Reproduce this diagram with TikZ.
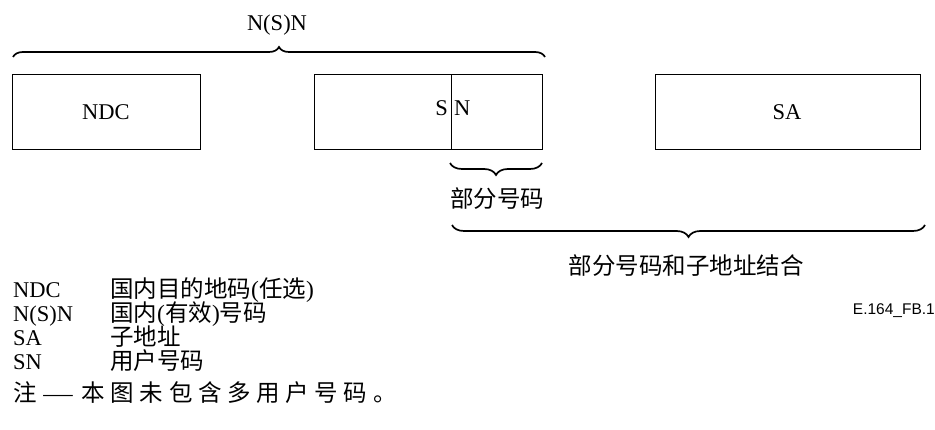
\documentclass[tikz,border=0pt]{standalone}
\usepackage{fontspec}
\setmainfont{Liberation Serif}
\newfontfamily\cjk{Noto Sans CJK SC}
\newfontfamily\cjknote[LetterSpace=24]{Noto Sans CJK SC}
\newfontfamily\arialfont{Liberation Sans}
\usetikzlibrary{decorations.pathreplacing}
\tikzset{
  box/.style={draw, line width=1.2pt, inner sep=0pt, anchor=north west},
  brc/.style={decorate, decoration={brace, amplitude=10pt}, line width=1.7pt},
  brcm/.style={decorate, decoration={brace, mirror, amplitude=12pt}, line width=1.7pt},
  lat/.style={font=\fontsize{22.5}{22.5}\selectfont, inner sep=0pt},
  chn/.style={font=\cjk\fontsize{23.5}{23.5}\selectfont, inner sep=0pt},
  lchn/.style={font=\cjk\fontsize{23.5}{23.5}\selectfont, inner sep=0pt, anchor=base west},
  llat/.style={font=\fontsize{22.5}{22.5}\selectfont, inner sep=0pt, anchor=base west}
}
\begin{document}
\begin{tikzpicture}[x=1pt,y=-1pt]
\useasboundingbox (0,0) rectangle (935,430);
% boxes
\node[box, minimum width=188pt, minimum height=75pt] (ndc) at (12,74) {};
\node[box, minimum width=137pt, minimum height=75pt] (sl) at (314,74) {};
\node[box, minimum width=91pt, minimum height=75pt] (sr) at (451,74) {};
\node[box, minimum width=265pt, minimum height=75pt] (sa) at (655,74) {};
% box labels
\node[lat, anchor=base] (tndc) at (106,120) {NDC};
\node[lat, anchor=base east] (ts) at (448,116) {S};
\node[lat, anchor=base west] (tn) at (454,116) {N};
\node[lat, anchor=base] (tsa) at (787,120) {SA};
% braces
\coordinate (b1a) at (13,57);
\coordinate (b1b) at (545,57);
\draw[brc] (b1a) -- (b1b);
\node[lat, anchor=base] (tnsn) at (277,31) {N(S)N};
\coordinate (b2a) at (450,163);
\coordinate (b2b) at (542,163);
\draw[brcm] (b2a) -- (b2b);
\node[chn] (tpart) at (497,199) {部分号码};
\coordinate (b3a) at (452,225);
\coordinate (b3b) at (925,225);
\draw[brcm] (b3a) -- (b3b);
\node[chn] (tcomb) at (686,266) {部分号码和子地址结合};
% legend
\node[llat] (l1) at (13,298) {NDC};
\node[lchn] (c1) at (110,298) {国内目的地码\textrm{(}任选\textrm{)}};
\node[llat] (l2) at (13,322) {N(S)N};
\node[lchn] (c2) at (110,322) {国内\textrm{(}有效\textrm{)}号码};
\node[llat] (l3) at (13,346) {SA};
\node[lchn] (c3) at (110,346) {子地址};
\node[llat] (l4) at (13,370) {SN};
\node[lchn] (c4) at (110,370) {用户号码};
\node[lchn, font=\cjknote\fontsize{23.5}{23.5}\selectfont] (note) at (13,402) {注\hspace{1pt}\textrm{\scalebox{1.25}[1]{—}}\hspace{9pt}本图未包含多用户号码。};
\node[font=\arialfont\fontsize{15.5}{15.5}\selectfont, inner sep=0pt, anchor=base east] (code) at (935,315) {E.164\_FB.1};
\end{tikzpicture}
\end{document}
